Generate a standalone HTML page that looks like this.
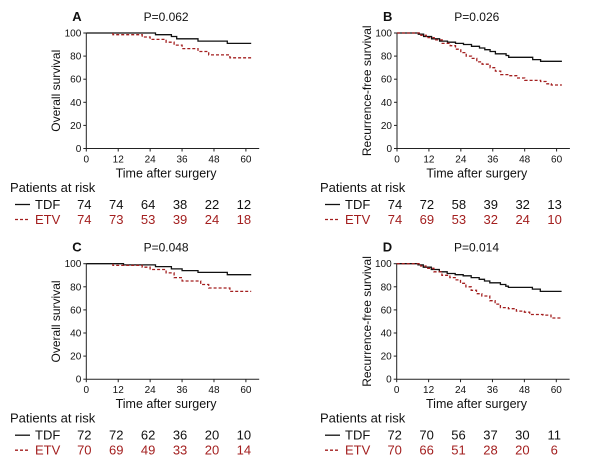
<!DOCTYPE html>
<html><head><meta charset="utf-8"><style>
body{margin:0;background:#fff}
svg{display:block}
text{font-family:"Liberation Sans",Arial,sans-serif;fill:#111}
.r{fill:#a31f1f}
</style></head><body>
<svg id="s" width="600" height="468" viewBox="0 0 600 468" xmlns="http://www.w3.org/2000/svg"></svg>
<script>
const panels=[
 {L:'A',P:'P=0.062',x0:86.3,y100:33,yl:'Overall survival',ylx:60,
  tdf:[[0,100],[26,98.5],[32,97],[34,95],[42,93],[53,91],[62,91]],
  etv:[[10,100],[10,98.5],[21,96.5],[24,94.5],[30,92],[33,89.5],[36,86.5],[42,84],[46,81],[54,78.5],[62,78.5]],
  nt:[74,74,64,38,22,12],ne:[74,73,53,39,24,18]},
 {L:'B',P:'P=0.026',x0:397,y100:33,yl:'Recurrence-free survival',ylx:371,
  tdf:[[0,100],[6,100],[8,99],[10,97],[13,95],[16,93],[19,92],[22,91],[25,90],[28,88.5],[31,87],[33,85.5],[35,84],[37,82],[41,80.5],[42,79],[50,79],[51,77],[54,75.5],[62,75.5]],
  etv:[[0,100],[6,100],[9,98],[11,96],[14,94],[17,91],[20,89],[22,86],[24,83],[26,80],[28,78],[30,75],[32,73],[35,70],[37,67],[39,64],[42,63],[45,61],[48,59],[54,58],[56,56],[58,55],[62,55]],
  nt:[74,72,58,39,32,13],ne:[74,69,53,32,24,10]},
 {L:'C',P:'P=0.048',x0:86.3,y100:263.7,yl:'Overall survival',ylx:60,
  tdf:[[0,100],[14,99],[26,97.5],[32,95.5],[36,94],[42,92.5],[53,90.5],[62,90.5]],
  etv:[[10,100],[10,98.5],[21,97],[24,95],[30,92],[33,88],[36,85],[43,82],[46,79],[54,76],[62,76]],
  nt:[72,72,62,36,20,10],ne:[70,69,49,33,20,14]},
 {L:'D',P:'P=0.014',x0:396.7,y100:263.7,yl:'Recurrence-free survival',ylx:371,
  tdf:[[0,100],[6,100],[8,99],[10,97],[13,95],[16,93],[19,91.5],[22,90.5],[25,89.5],[28,88],[31,86.5],[33,85],[35,83.5],[39,82],[41,80.5],[42,79.5],[50,79.5],[51,78],[54,76],[62,76]],
  etv:[[0,100],[6,100],[9,98],[11,96],[14,93],[17,90],[20,88],[22,86],[24,83],[26,80],[28,77],[30,74],[32,72],[35,68],[37,65],[39,62],[42,61],[45,59],[48,58],[50,56],[55,55.5],[58,53],[62,53]],
  nt:[72,70,56,37,30,11],ne:[70,66,51,28,20,6]}
];
let h='';
const sx=2.66, sy=1.155;
for(const p of panels){
 const X=t=>p.x0+t*sx, Y=v=>p.y100+(100-v)*sy, y0=Y(0);
 h+=`<line x1="${p.x0}" y1="${p.y100}" x2="${p.x0}" y2="${y0}" stroke="#222" stroke-width="1"/>`;
 h+=`<line x1="${p.x0}" y1="${y0}" x2="${X(65)}" y2="${y0}" stroke="#222" stroke-width="1"/>`;
 for(let v=0;v<=100;v+=20){h+=`<line x1="${p.x0-3}" y1="${Y(v)}" x2="${p.x0}" y2="${Y(v)}" stroke="#222"/><text x="${p.x0-5}" y="${Y(v)+3.5}" font-size="10" text-anchor="end">${v}</text>`;}
 for(let t=0;t<=60;t+=12){h+=`<line x1="${X(t)}" y1="${y0}" x2="${X(t)}" y2="${y0+3}" stroke="#222"/><text x="${X(t)}" y="${y0+14}" font-size="10" text-anchor="middle">${t}</text>`;}
 h+=`<text x="${X(30)}" y="${y0+29}" font-size="12.5" text-anchor="middle">Time after surgery</text>`;
 h+=`<text transform="translate(${p.ylx},${(p.y100+y0)/2}) rotate(-90)" font-size="12" text-anchor="middle">${p.yl}</text>`;
 h+=`<text x="${p.x0-14}" y="${p.y100-12}" font-size="13" font-weight="bold">${p.L}</text>`;
 h+=`<text x="${X(30)}" y="${p.y100-12}" font-size="12" text-anchor="middle">${p.P}</text>`;
 const path=(pts)=>{let d=`M${X(pts[0][0])},${Y(pts[0][1])}`;for(let i=1;i<pts.length;i++){d+=`H${X(pts[i][0]).toFixed(1)}V${Y(pts[i][1]).toFixed(1)}`;}return d;};
 h+=`<path d="${path(p.tdf)}" fill="none" stroke="#111" stroke-width="1.3"/>`;
 h+=`<path d="${path(p.etv)}" fill="none" stroke="#a31f1f" stroke-width="1.3" stroke-dasharray="3,2"/>`;
 const bx=p.x0<300?0:310, ry=p.y100+159, r1=p.y100+176, r2=p.y100+191;
 h+=`<text x="${bx+10}" y="${ry}" font-size="13">Patients at risk</text>`;
 h+=`<line x1="${bx+15}" y1="${r1-4.5}" x2="${bx+30}" y2="${r1-4.5}" stroke="#111" stroke-width="1.3"/><text x="${bx+35}" y="${r1}" font-size="13">TDF</text>`;
 h+=`<line x1="${bx+15}" y1="${r2-4.5}" x2="${bx+30}" y2="${r2-4.5}" stroke="#a31f1f" stroke-width="1.3" stroke-dasharray="3,2"/><text class="r" x="${bx+35}" y="${r2}" font-size="13">ETV</text>`;
 for(let i=0;i<6;i++){h+=`<text x="${X(i*12)-2}" y="${r1}" font-size="13" text-anchor="middle">${p.nt[i]}</text><text class="r" x="${X(i*12)-2}" y="${r2}" font-size="13" text-anchor="middle">${p.ne[i]}</text>`;}
}
document.getElementById('s').innerHTML=h;
</script>
</body></html>
